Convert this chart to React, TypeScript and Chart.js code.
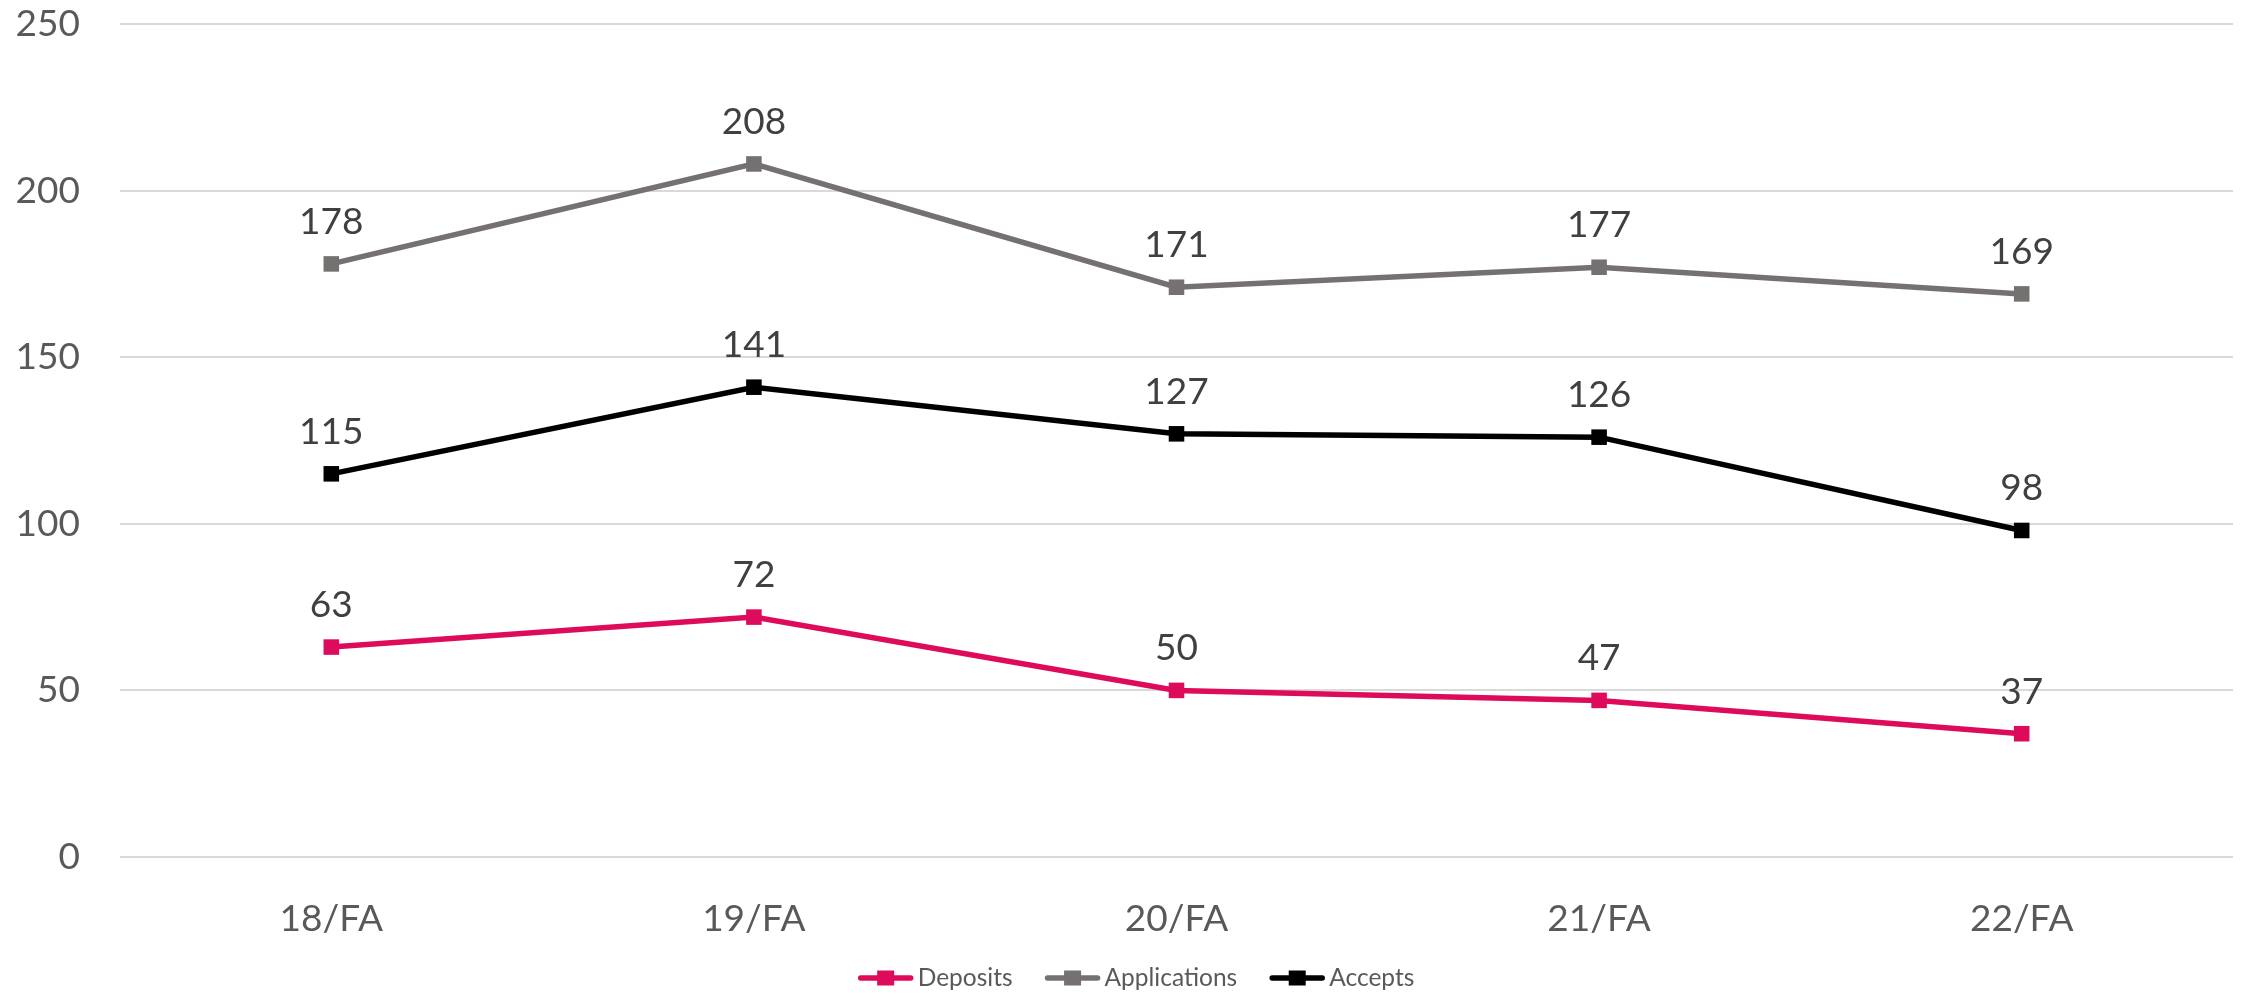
import React, { useEffect, useRef } from "react";
import { Chart, registerables } from "chart.js";

Chart.register(...registerables);

const categories = ["18/FA", "19/FA", "20/FA", "21/FA", "22/FA"];
const deposits = [63, 72, 50, 47, 37];
const applications = [178, 208, 171, 177, 169];
const accepts = [115, 141, 127, 126, 98];
const yTicks = [0, 50, 100, 150, 200, 250];

const FONT = "Lato, 'Open Sans', sans-serif";
const COLORS = { deposits: "#DE0B5C", applications: "#767171", accepts: "#000000" };

const dataLabelsPlugin = {
  id: "dataLabels",
  afterDatasetsDraw(chart: any) {
    const ctx = chart.ctx;
    ctx.save();
    ctx.font = `37px ${FONT}`;
    ctx.fillStyle = "#404040";
    ctx.textAlign = "center";
    ctx.textBaseline = "middle";
    chart.data.datasets.forEach((ds: any, i: number) => {
      const meta = chart.getDatasetMeta(i);
      meta.data.forEach((pt: any, j: number) => {
        ctx.fillText(String(ds.data[j]), pt.x, pt.y - 42);
      });
    });
    ctx.restore();
  },
};

const legendPlugin = {
  id: "customLegend",
  afterDraw(chart: any) {
    const ctx = chart.ctx;
    ctx.save();
    ctx.font = `24.5px ${FONT}`;
    ctx.textBaseline = "middle";
    ctx.textAlign = "left";
    const lineW = 56;
    const gapText = 4;
    const gapItem = 32;
    const items = chart.data.datasets.map((ds: any) => ({
      text: ds.label,
      color: ds.borderColor,
      w: ctx.measureText(ds.label).width,
    }));
    const total =
      items.reduce((s: number, it: any) => s + lineW + gapText + it.w, 0) +
      gapItem * (items.length - 1);
    let x = 1136 - total / 2;
    const y = 978;
    items.forEach((it: any) => {
      ctx.strokeStyle = it.color;
      ctx.lineWidth = 5.5;
      ctx.lineCap = "round";
      ctx.beginPath();
      ctx.moveTo(x + 3, y);
      ctx.lineTo(x + lineW - 3, y);
      ctx.stroke();
      ctx.fillStyle = it.color;
      ctx.fillRect(x + lineW / 2 - 8.5, y - 7.5, 17, 15);
      ctx.fillStyle = "#595959";
      ctx.fillText(it.text, x + lineW + gapText, y);
      x += lineW + gapText + it.w + gapItem;
    });
    ctx.restore();
  },
};

export default function App() {
  const ref = useRef<HTMLCanvasElement>(null);

  useEffect(() => {
    if (!ref.current) return;
    const mk = (label: string, data: number[], color: string) => ({
      label,
      data,
      borderColor: color,
      backgroundColor: color,
      borderWidth: 5.5,
      pointStyle: "rect",
      pointRadius: 11,
      pointBorderWidth: 0,
      pointBackgroundColor: color,
      tension: 0,
    });
    const chart = new Chart(ref.current, {
      type: "line",
      data: {
        labels: categories,
        datasets: [
          mk("Deposits", deposits, COLORS.deposits),
          mk("Applications", applications, COLORS.applications),
          mk("Accepts", accepts, COLORS.accepts),
        ],
      },
      options: {
        responsive: false,
        animation: false,
        layout: { padding: { top: 24, left: 0, right: 5, bottom: 0 } },
        plugins: {
          legend: { display: false },
          tooltip: { enabled: false },
        },
        scales: {
          x: {
            offset: true,
            grid: { display: false },
            border: { display: false },
            ticks: {
              font: { family: FONT, size: 37 },
              color: "#595959",
              padding: 32,
            },
            afterFit: (s: any) => {
              s.height = 137;
            },
          },
          y: {
            min: 0,
            max: 250,
            afterBuildTicks: (s: any) => {
              s.ticks = yTicks.map((v) => ({ value: v }));
            },
            grid: { color: "#D9D9D9", lineWidth: 2, drawTicks: false },
            border: { display: false },
            ticks: {
              font: { family: FONT, size: 37 },
              color: "#595959",
              padding: 40,
            },
            afterFit: (s: any) => {
              s.width = 120;
              s.paddingTop = 0;
              s.paddingBottom = 0;
            },
          },
        },
      },
      plugins: [dataLabelsPlugin, legendPlugin],
    } as any);
    return () => chart.destroy();
  }, []);

  return (
    <div style={{ position: "fixed", left: 0, top: 0, width: 2244, height: 994, background: "#fff" }}>
      <canvas ref={ref} width={2244} height={994} />
    </div>
  );
}
